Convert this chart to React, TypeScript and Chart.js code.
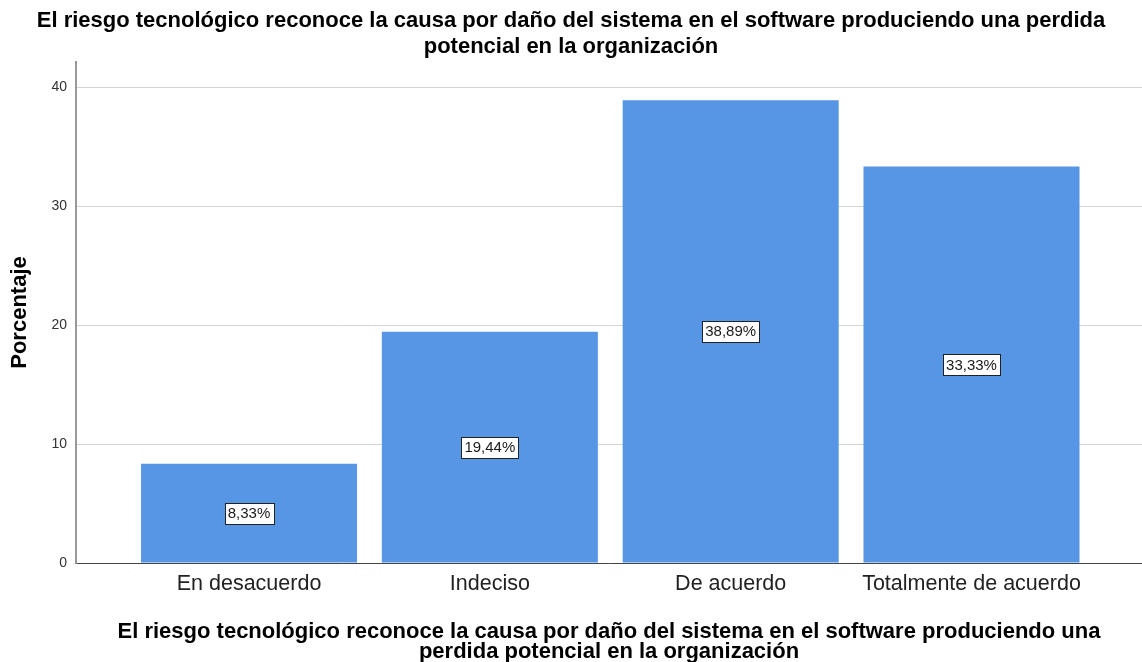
import React, { useEffect, useRef } from "react";
import { Chart, registerables } from "chart.js";

Chart.register(...registerables);

const categories = ["En desacuerdo", "Indeciso", "De acuerdo", "Totalmente de acuerdo"];
const percentages = [8.33, 19.44, 38.89, 33.33];
const yTicks = [0, 10, 20, 30, 40];
const chartTitle = [
  "El riesgo tecnológico reconoce la causa por daño del sistema en el software produciendo una perdida",
  "potencial en la organización",
];
const xTitle = [
  "El riesgo tecnológico reconoce la causa por daño del sistema en el software produciendo una",
  "perdida potencial en la organización",
];
const yTitle = "Porcentaje";

const FONT = "'Liberation Sans', Arial, Helvetica, sans-serif";

const fmt = (v: number) => v.toFixed(2).replace(".", ",") + "%";

const labelPlugin = {
  id: "boxLabels",
  afterDatasetsDraw(chart: any) {
    const ctx = chart.ctx;
    const meta = chart.getDatasetMeta(0);
    ctx.save();
    ctx.font = `15px ${FONT}`;
    ctx.textAlign = "center";
    ctx.textBaseline = "middle";
    meta.data.forEach((el: any, i: number) => {
      const text = fmt(percentages[i]);
      const cx = el.x;
      const cy = (el.y + el.base) / 2;
      const w = ctx.measureText(text).width + 6;
      const h = 21;
      const x0 = Math.round(cx - w / 2) + 0.5;
      const y0 = Math.round(cy - h / 2) + 0.5;
      ctx.fillStyle = "#ffffff";
      ctx.fillRect(x0, y0, Math.round(w), h);
      ctx.strokeStyle = "#222222";
      ctx.lineWidth = 1;
      ctx.strokeRect(x0, y0, Math.round(w), h);
      ctx.fillStyle = "#1a1a1a";
      ctx.fillText(text, cx, cy + 1);
    });
    ctx.restore();
  },
};

export default function App() {
  const ref = useRef<HTMLCanvasElement | null>(null);

  useEffect(() => {
    document.body.style.margin = "0";
    const canvas = ref.current;
    if (!canvas) return;
    const chart = new Chart(canvas, {
      type: "bar",
      data: {
        datasets: [
          {
            data: categories.map((_, i) => ({ x: i, y: percentages[i] })),
            backgroundColor: "#5696e5",
            borderWidth: 0,
            barPercentage: 0.897,
            categoryPercentage: 1,
          },
        ],
      },
      plugins: [labelPlugin],
      options: {
        responsive: false,
        animation: false,
        layout: { padding: 0 },
        plugins: {
          legend: { display: false },
          tooltip: { enabled: false },
          title: {
            display: true,
            text: chartTitle,
            color: "#000000",
            font: { family: FONT, size: 22, weight: "bold", lineHeight: 1.18 },
            padding: { top: 7.5, bottom: 2.6 },
          },
        },
        scales: {
          x: {
            type: "linear",
            min: -0.7185,
            max: 3.708,
            offset: false,
            afterFit: (scale: any) => {
              scale.height = 99;
            },
            afterBuildTicks: (scale: any) => {
              scale.ticks = categories.map((_, i) => ({ value: i }));
            },
            ticks: {
              autoSkip: false,
              maxRotation: 0,
              padding: 8,
              color: "#222222",
              font: { family: FONT, size: 21.5 },
              callback: (v: any) => categories[Number(v)] ?? "",
            },
            grid: { display: false, drawTicks: false },
            border: { display: true, color: "#444444", width: 1 },
            title: {
              display: true,
              text: xTitle,
              color: "#000000",
              font: { family: FONT, size: 22, weight: "bold", lineHeight: 0.9 },
              padding: { top: 0, bottom: 0.5 },
            },
          },
          y: {
            min: 0,
            max: 42.1,
            afterFit: (scale: any) => {
              scale.width = 76;
            },
            afterBuildTicks: (scale: any) => {
              scale.ticks = yTicks.map((v) => ({ value: v }));
            },
            ticks: {
              padding: 9,
              color: "#333333",
              font: { family: FONT, size: 14 },
            },
            grid: { color: "#d4d4d4", lineWidth: 1, drawTicks: false },
            border: { display: true, color: "#999999", width: 2 },
            title: {
              display: true,
              text: yTitle,
              color: "#000000",
              font: { family: FONT, size: 22, weight: "bold", lineHeight: 1.2 },
              padding: { top: 7, bottom: 0 },
            },
          },
        },
      },
    } as any);
    return () => chart.destroy();
  }, []);

  return (
    <div style={{ width: 1142, height: 662 }}>
      <canvas ref={ref} width={1142} height={662} style={{ display: "block" }} />
    </div>
  );
}
